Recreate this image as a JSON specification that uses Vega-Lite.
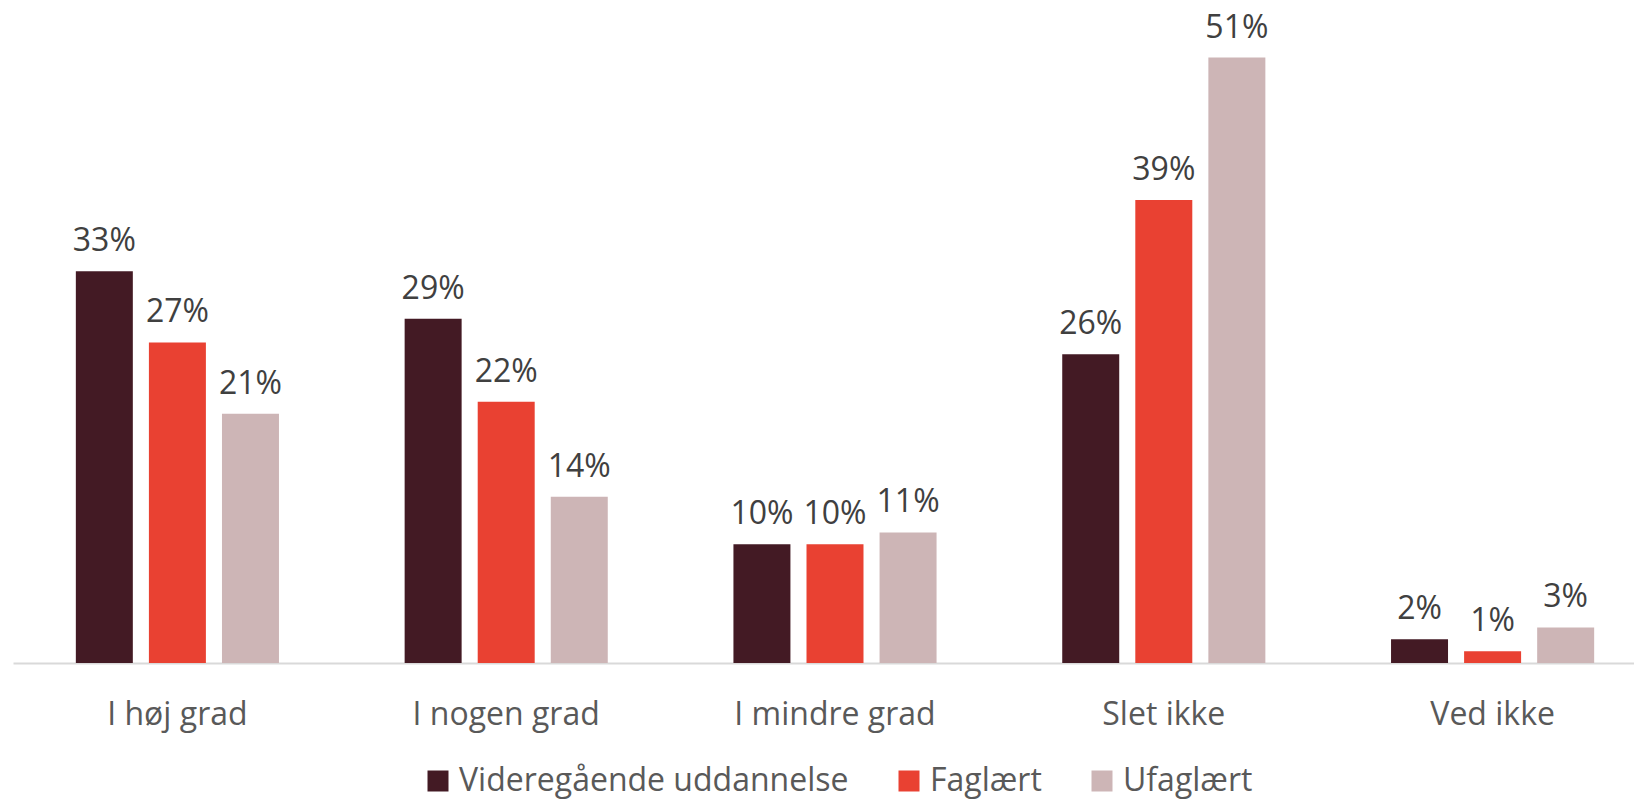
{
  "$schema": "https://vega.github.io/schema/vega-lite/v6.json",
  "width": 1621,
  "height": 663,
  "autosize": {"type": "none"},
  "padding": {"left": 13, "top": 0, "right": 0, "bottom": 136},
  "background": "white",
  "config": {
    "view": {"stroke": null},
    "font": "Open Sans"
  },
  "data": {
    "values": [
      {"kategori": "I høj grad", "gruppe": "Videregående uddannelse", "andel": 0.33},
      {"kategori": "I høj grad", "gruppe": "Faglært", "andel": 0.27},
      {"kategori": "I høj grad", "gruppe": "Ufaglært", "andel": 0.21},
      {"kategori": "I nogen grad", "gruppe": "Videregående uddannelse", "andel": 0.29},
      {"kategori": "I nogen grad", "gruppe": "Faglært", "andel": 0.22},
      {"kategori": "I nogen grad", "gruppe": "Ufaglært", "andel": 0.14},
      {"kategori": "I mindre grad", "gruppe": "Videregående uddannelse", "andel": 0.10},
      {"kategori": "I mindre grad", "gruppe": "Faglært", "andel": 0.10},
      {"kategori": "I mindre grad", "gruppe": "Ufaglært", "andel": 0.11},
      {"kategori": "Slet ikke", "gruppe": "Videregående uddannelse", "andel": 0.26},
      {"kategori": "Slet ikke", "gruppe": "Faglært", "andel": 0.39},
      {"kategori": "Slet ikke", "gruppe": "Ufaglært", "andel": 0.51},
      {"kategori": "Ved ikke", "gruppe": "Videregående uddannelse", "andel": 0.02},
      {"kategori": "Ved ikke", "gruppe": "Faglært", "andel": 0.01},
      {"kategori": "Ved ikke", "gruppe": "Ufaglært", "andel": 0.03}
    ]
  },
  "encoding": {
    "x": {
      "field": "kategori",
      "type": "nominal",
      "sort": ["I høj grad", "I nogen grad", "I mindre grad", "Slet ikke", "Ved ikke"],
      "scale": {"paddingInner": 0, "paddingOuter": 0, "range": [0, 1644]},
      "axis": {
        "title": null,
        "labelAngle": 0,
        "labelFontSize": 32,
        "labelColor": "#595959",
        "labelPadding": 36,
        "labelLimit": 400,
        "ticks": false,
        "domainColor": "#d9d9d9",
        "domainWidth": 2,
        "grid": false
      }
    },
    "xOffset": {
      "field": "gruppe",
      "type": "nominal",
      "sort": ["Videregående uddannelse", "Faglært", "Ufaglært"],
      "scale": {"paddingInner": 0.22, "paddingOuter": 0.86}
    },
    "y": {
      "field": "andel",
      "type": "quantitative",
      "scale": {"domain": [0, 0.5585], "nice": false, "zero": true},
      "axis": null
    }
  },
  "layer": [
    {
      "mark": {"type": "bar"},
      "encoding": {
        "color": {
          "field": "gruppe",
          "type": "nominal",
          "sort": ["Videregående uddannelse", "Faglært", "Ufaglært"],
          "scale": {
            "domain": ["Videregående uddannelse", "Faglært", "Ufaglært"],
            "range": ["#431a24", "#e94132", "#cdb5b6"]
          },
          "legend": {
            "title": null,
            "orient": "none",
            "direction": "horizontal",
            "legendX": 409,
            "legendY": 765,
            "symbolType": "square",
            "symbolSize": 441,
            "symbolStrokeWidth": 0,
            "symbolOpacity": 1,
            "labelFontSize": 32,
            "labelColor": "#595959",
            "labelOffset": 5,
            "columnPadding": 44,
            "labelLimit": 600
          }
        }
      }
    },
    {
      "mark": {"type": "text", "baseline": "alphabetic", "dy": -20, "fontSize": 32, "color": "#404040"},
      "encoding": {
        "text": {"field": "andel", "type": "quantitative", "format": ".0%"}
      }
    }
  ]
}
